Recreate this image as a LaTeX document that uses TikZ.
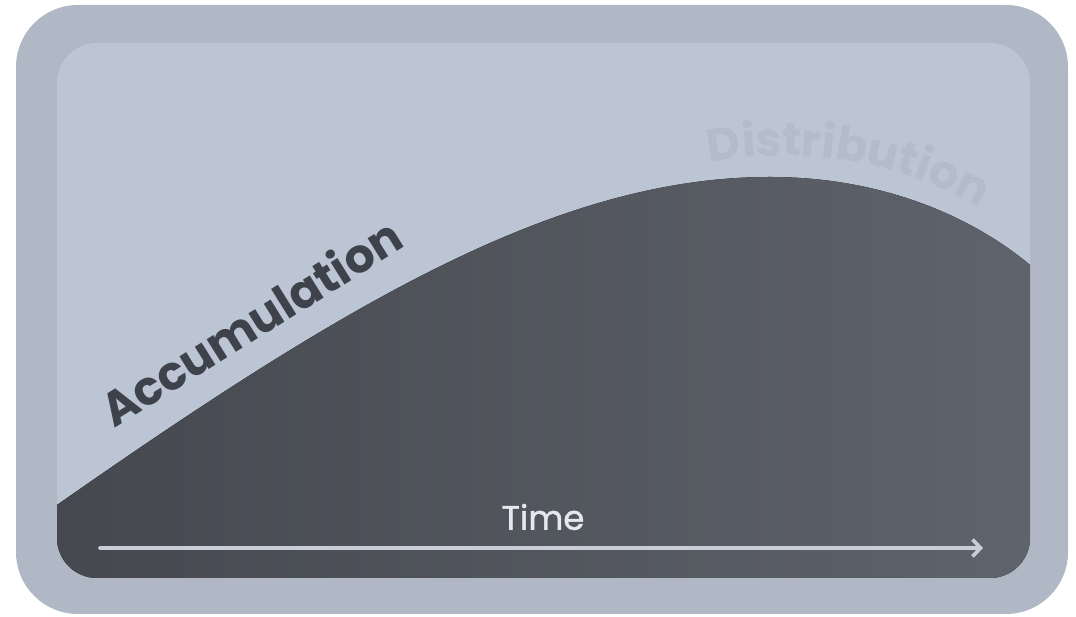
\documentclass[tikz,border=0pt]{standalone}
\usepackage{fontspec}
\setmainfont{Poppins}
\newfontfamily\timefont{Poppins}[FakeBold=1.2]
\usetikzlibrary{arrows.meta,decorations.text}

\definecolor{frame}{HTML}{B0B8C6}
\definecolor{panel}{HTML}{BCC5D4}
\definecolor{hillL}{HTML}{45484F}
\definecolor{hillR}{HTML}{5F636B}
\definecolor{accum}{HTML}{3E424A}
\definecolor{distr}{HTML}{B3BCCA}
\definecolor{axis}{HTML}{C8CDD6}
\definecolor{timetext}{HTML}{E6E8EC}

\tikzset{
  phase/.style={font=\fontsize{47}{47}\selectfont\bfseries},
  arrow/.style={-{Straight Barb[length=8pt,width=17pt]}, line width=3.6pt, line cap=round, draw=axis}}

\begin{document}
\begin{tikzpicture}[x=1pt,y=1pt]
    \useasboundingbox (0,0) rectangle (1076,617);
    \fill[frame, rounded corners=62pt] (16,3) rectangle (1068,612);
    \fill[panel, rounded corners=40pt] (57,39) rectangle (1030,574);
    % the hill under the curve
    \begin{scope}
      \clip[rounded corners=40pt] (57,39) rectangle (1030,574);
      \fill[left color=hillL, right color=hillR] (57,0) -- (57,112)
        .. controls (350,317) and (560,440) .. (770,440)
        .. controls (880,440) and (970,402) .. (1030,352) -- (1030,0) -- cycle;
    \end{scope}
    \node[phase, text=accum, rotate=32, anchor=base west, inner sep=0pt] (acc) at (114,188) {Accumulation};
    \path[decorate, decoration={text along path, text align=left,
        text={|\fontsize{46}{46}\selectfont\bfseries\color{distr}|Distribution}}]
        (710,454) .. controls (740,460) and (760,461) .. (785,461)
        .. controls (880,461) and (960,428) .. (1040,372);
    \node[font=\timefont\fontsize{34}{34}\selectfont, text=timetext] (time) at (543,100) {Time};
    \coordinate (t0) at (100,69);
    \coordinate (t1) at (983,69);
    \draw[arrow] (t0) -- (t1);
\end{tikzpicture}
\end{document}
